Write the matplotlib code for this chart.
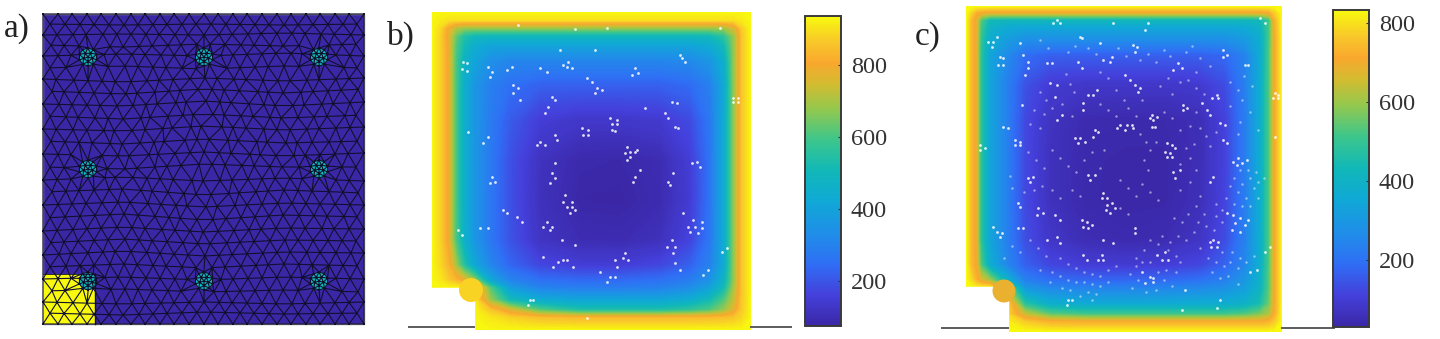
import numpy as np
import matplotlib
matplotlib.use("Agg")
import matplotlib.pyplot as plt
import matplotlib.tri as mtri
from matplotlib.colors import LinearSegmentedColormap, Normalize
from matplotlib.cm import ScalarMappable
from matplotlib.patches import Rectangle, Circle

W, H = 1440, 339
plt.rcParams['font.family'] = ['Liberation Serif', 'DejaVu Serif']

#rough parula as it looks in the picture
parula = LinearSegmentedColormap.from_list("parula_ish", [
    (0.00, "#3B27A6"), (0.10, "#4440DC"), (0.20, "#2F6FF5"), (0.30, "#1F8FE8"),
    (0.40, "#10A8D6"), (0.50, "#10B8B8"), (0.60, "#3CC68C"), (0.70, "#93C84E"),
    (0.78, "#D2BC30"), (0.85, "#F9A82E"), (0.92, "#F8C82A"), (1.00, "#F8F90E")])

#panel a mesh in pixels (row height at 5 places across)
mesh_row_y = [(14,14,14,14,14),(24,25,24,25,24),(35,34,35,33,35),(45,47,44,46,44),(56,54,56,53,56),
              (68,66,69,66,68),(79,82,78,81,78),(91,94,89,93,89),(104,106,101,106,102),(116,119,114,118,115),
              (129,131,126,130,127),(141,144,139,143,141),(154,156,152,156,153),(167,169,164,167,167),
              (180,177,181,178,181),(192,189,195,190,193),(205,202,207,203,205),(218,214,220,215,217),
              (231,227,232,228,229),(243,239,244,240,241),(255,251,256,252,253),(267,264,268,264,266),
              (279,277,280,277,279),(291,289,292,290,292),(302,304,302,304,302),(313,315,312,314,313),
              (324,324,324,324,324)]
mesh_row_x = [
 [43,58,72,87,101,116,131,145,160,174,189,204,218,233,247,262,277,291,306,320,335,349,364],
 [50,65,80,94,109,124,138,153,167,182,196,211,226,240,255,269,284,298,313,328,343,357],
 [43,57,73,86,103,117,131,146,159,175,188,204,219,232,248,261,277,292,305,321,334,351,364],
 [51,64,79,95,110,123,139,152,168,181,197,210,225,241,254,270,283,299,312,329,342,356],
 [43,58,71,104,116,132,145,161,174,187,221,233,247,262,276,291,302,336,350,364],
 [50,66,81,93,108,125,138,153,166,182,196,211,227,240,255,268,284,299,314,327,344,357],
 [43,56,74,88,102,115,131,147,159,173,190,205,217,234,246,263,278,290,307,319,336,349,364],
 [52,64,79,94,111,126,137,155,169,180,198,212,224,239,258,268,283,301,313,328,341,358],
 [43,59,72,87,100,117,133,146,157,176,186,206,220,231,249,264,275,293,304,322,333,350,364],
 [50,66,78,95,108,123,141,150,168,183,193,213,224,241,253,270,281,298,314,327,345,356],
 [43,56,73,87,104,114,132,145,163,172,191,201,222,233,246,264,277,290,307,319,336,350,364],
 [51,65,79,92,110,122,140,154,164,185,197,209,228,238,257,267,286,297,312,329,341,357],
 [43,58,71,88,102,118,129,149,158,175,190,204,219,231,250,260,276,294,305,320,335,348,364],
 [50,64,81,95,107,125,137,155,167,181,199,212,225,242,254,270,282,299,313,328,342,356],
 [43,57,71,105,115,133,147,160,173,192,203,220,232,248,262,275,290,302,336,349,364],
 [52,66,79,94,109,122,141,152,168,184,196,211,229,239,256,268,284,298,312,329,343,358],
 [43,58,72,86,102,118,130,148,161,176,187,206,217,235,247,262,278,292,306,320,335,350,364],
 [50,65,80,95,110,124,138,155,169,180,197,213,226,241,255,269,283,299,314,327,344,357],
 [43,57,73,87,101,117,132,145,162,175,190,203,218,234,249,261,276,291,305,322,334,349,364],
 [51,64,78,94,108,125,139,152,167,183,198,210,227,240,254,270,285,298,313,328,342,356],
 [43,59,71,88,103,115,131,147,160,174,188,205,219,232,247,263,277,290,307,320,336,351,364],
 [50,66,80,94,110,124,137,153,166,182,196,212,225,241,256,268,284,299,312,329,343,357],
 [43,58,71,105,118,131,146,160,175,187,221,233,248,262,277,291,302,336,350,364],
 [52,65,79,95,111,125,138,152,168,181,196,214,226,240,255,269,283,298,312,327,342,358],
 [43,57,73,87,102,116,132,145,161,174,189,204,219,232,247,262,276,292,305,320,335,349,364],
 [50,64,80,94,109,123,139,153,167,182,197,211,225,240,254,269,284,298,313,328,342,357],
 [43,58,72,87,101,116,131,145,160,174,189,204,218,233,247,262,277,291,306,320,335,349,364]]
hole_x = [88, 204, 319, 88, 319, 88, 204, 319]
hole_y = [57, 57, 57, 169, 169, 281, 281, 281]
hole_r = 9

#panel b
b_x = [432,440,448,456,464,474,490,510,540,580,620,660,690,710,724,734,742,751]
b_y = [12,20,28,36,46,60,85,120,160,200,240,265,280,288,300,310,318,330]
b_vals = [
 [930,930,930,930,930,930,930,930,930,930,930,930,930,930,930,930,930,930],
 [930,915,900,900,900,900,900,900,900,900,900,900,900,900,900,900,915,930],
 [930,890,800,710,680,680,680,680,680,680,680,680,680,680,690,750,870,930],
 [930,880,780,630,540,500,490,490,490,490,490,490,490,500,560,680,860,930],
 [930,880,790,610,510,440,400,400,400,400,400,400,400,430,500,680,860,930],
 [930,880,790,600,470,410,340,310,310,310,310,310,320,360,450,680,860,930],
 [930,880,790,600,450,360,290,250,220,220,220,220,240,290,420,680,860,930],
 [930,880,790,600,450,360,280,210,150,130,130,140,180,270,430,680,860,930],
 [930,880,790,600,450,360,275,190,115,85,82,95,150,260,430,680,860,930],
 [930,880,790,600,450,360,270,190,110,78,76,90,145,260,430,680,860,930],
 [930,880,790,600,460,360,270,195,120,95,92,110,165,270,430,680,860,930],
 [930,890,830,690,550,420,310,230,170,150,150,170,220,295,430,680,860,930],
 [930,910,870,830,780,680,420,300,250,235,235,250,280,345,470,680,860,930],
 [930,930,930,930,930,930,620,380,300,285,285,295,330,400,510,700,860,930],
 [930,930,930,930,930,930,690,510,430,410,410,410,440,510,610,730,865,930],
 [930,930,930,930,930,930,860,760,620,540,540,540,570,610,680,770,870,930],
 [930,930,930,930,930,930,910,880,850,840,840,840,840,845,850,860,885,930],
 [930,930,930,930,930,930,930,930,930,930,930,930,930,930,930,930,930,930]]
b_range = (74, 937)
b_ticks = [200, 400, 600, 800]
b_specks = [(463,62),(467,63),(462,69),(467,71),(518,25),(575,29),(607,28),(720,28),(587,318),
 (563,65),(568,62),(572,68),(567,67),(595,50),(560,50),(488,67),(492,72),(490,77),(512,67),(507,70),
 (540,68),(547,72),(513,85),(518,88),(513,93),(520,100),(587,78),(592,82),(597,88),(602,90),(595,93),
 (635,68),(638,73),(632,75),(682,58),(685,62),(680,55),(552,97),(555,100),(548,107),(545,113),
 (610,118),(617,120),(612,124),(617,124),(612,130),(615,131),(582,128),(588,130),(583,135),(588,135),
 (627,147),(630,152),(625,153),(635,152),(630,157),(627,160),(637,150),(555,135),(557,140),
 (540,142),(545,145),(537,145),(672,102),(677,103),(665,113),(668,118),(645,108),(678,128),(675,127),
 (697,162),(700,167),(692,163),(640,170),(635,177),(633,182),(673,173),(668,182),(670,185),
 (555,163),(552,173),(555,178),(550,183),(492,177),(495,182),(490,183),(565,195),(563,202),(572,202),
 (567,207),(572,207),(575,210),(570,213),(503,210),(507,213),(517,217),(522,222),(547,222),(552,227),
 (543,227),(550,230),(480,228),(488,228),(458,230),(462,235),(683,213),(693,220),(702,222),(688,227),
 (695,227),(702,228),(690,232),(698,233),(672,240),(667,247),(675,247),(673,253),(675,263),(680,270),
 (562,240),(575,245),(563,260),(558,262),(567,260),(553,267),(573,267),(543,257),(625,253),(623,258),
 (615,260),(628,260),(617,267),(600,272),(610,277),(607,282),(615,277),(530,300),(533,300),(528,305),
 (727,248),(722,252),(708,270),(703,275),(733,98),(738,98),(738,102),(733,102),(468,132),(483,143),(488,137)]

#panel c
c_x = [966,971,976,981,990,1007,1025,1050,1085,1125,1165,1200,1225,1245,1260,1269,1275,1282]
c_y = [6,13,20,27,38,55,85,120,160,200,240,265,280,288,304,314,322,332]
c_vals = [
 [830,830,830,830,830,830,830,830,830,830,830,830,830,830,830,830,830,830],
 [830,780,720,690,680,680,680,680,680,680,680,680,680,680,680,700,770,830],
 [830,740,690,530,430,420,420,420,420,420,420,420,420,420,430,510,730,830],
 [830,740,690,510,400,360,350,350,350,350,350,350,350,360,400,520,720,830],
 [830,740,690,490,370,320,280,280,280,280,280,280,280,310,370,520,710,830],
 [830,740,690,480,340,260,190,165,165,165,165,165,180,240,360,530,710,830],
 [830,740,690,480,340,230,140,95,80,80,80,90,130,230,370,530,710,830],
 [830,740,690,480,340,230,125,70,45,42,42,55,110,225,370,530,710,830],
 [830,740,690,480,340,230,125,65,40,36,36,55,110,225,370,530,710,830],
 [830,740,690,480,340,230,125,65,40,34,36,58,115,225,370,530,710,830],
 [830,740,690,480,340,230,135,80,52,45,48,75,130,235,370,530,710,830],
 [830,745,700,530,370,250,165,120,100,95,100,120,170,250,380,530,710,830],
 [830,790,730,670,600,390,230,190,175,175,180,195,230,295,390,540,710,830],
 [830,830,830,830,830,600,300,250,240,240,245,255,275,320,400,540,710,830],
 [830,830,830,830,830,800,480,380,360,360,360,370,370,390,450,560,710,830],
 [830,830,830,830,830,790,640,540,510,510,510,510,510,530,570,620,720,830],
 [830,830,830,830,830,820,770,730,720,720,720,720,720,720,720,730,770,830],
 [830,830,830,830,830,830,830,830,830,830,830,830,830,830,830,830,830,830]]
c_range = (30, 833)
c_ticks = [200, 400, 600, 800]
c_specks = [(1000,57),(1003,58),(998,65),(1003,65),(993,42),(988,42),(997,37),(992,47),(1020,43),
 (1057,20),(1053,23),(1060,23),(1113,23),(1080,37),(1082,38),(1023,55),(1028,62),(1028,68),(1025,75),
 (1047,63),(1052,63),(1078,62),(1082,68),(1103,60),(1110,62),(1112,57),(1100,43),(1050,83),(1057,85),
 (1055,97),(1093,95),(1088,95),(1097,90),(1083,103),(1083,110),(1022,105),(1057,120),(1062,115),
 (1003,127),(1008,128),(1015,140),(1020,142),(1015,145),(1020,145),(1075,138),(1080,138),(1078,143),
 (1085,142),(1095,130),(1098,132),(1093,137),(1117,128),(1120,125),(980,145),(985,148),(980,150),
 (1148,23),(1145,30),(1133,45),(1137,47),(1135,52),(1178,63),(1182,68),(1173,70),(1223,50),(1227,55),
 (1223,57),(1125,75),(1130,80),(1135,85),(1140,88),(1138,92),(1245,65),(1248,65),(1265,23),(1260,18),
 (1275,93),(1278,95),(1273,98),(1278,98),(1217,95),(1212,98),(1218,98),(1183,105),(1187,108),(1183,110),
 (1202,103),(1207,110),(1210,115),(1152,115),(1157,117),(1150,118),(1153,120),(1152,127),(1155,127),
 (1127,125),(1132,125),(1125,130),(1133,128),(1220,123),(1225,125),(1223,140),(1227,143),(1167,143),
 (1172,145),(1165,152),(1170,153),(1175,148),(1167,157),(1172,157),(1238,158),(1242,163),(1233,162),
 (1247,160),(1237,165),(1275,137),(1028,178),(1033,177),(1030,182),(1088,175),(1095,175),(1090,180),
 (1103,193),(1102,198),(1107,198),(1107,205),(1112,203),(1115,208),(1110,213),(1106,210),(1018,203),
 (1020,207),(1038,208),(1043,213),(1037,215),(1055,215),(1060,220),(1082,220),(1087,222),(1092,225),
 (1083,227),(1088,228),(993,227),(997,232),(1002,233),(1000,237),(1018,228),(1023,228),(1047,240),
 (1057,237),(1060,243),(1103,240),(1113,243),(1083,255),(1087,260),(1102,255),(1103,260),(1098,260),
 (1068,300),(1072,300),(1067,305),(1173,172),(1180,170),(1175,178),(1213,177),(1210,182),(1227,213),
 (1233,215),(1240,218),(1248,220),(1235,223),(1245,225),(1232,230),(1240,232),(1213,240),(1218,242),
 (1210,242),(1217,247),(1211,247),(1135,228),(1135,233),(1157,255),(1165,252),(1162,260),(1168,260),
 (1142,272),(1150,277),(1153,278),(1145,283),(1153,282),(1250,272),(1257,270),(1265,252),(1270,247),
 (1185,290),(1220,300),(1217,308),(1182,310)]
c_faint = [(1040,40),(1048,48),(1068,52),(1075,46),(1088,48),(1096,54),(1118,48),(1126,56),(1140,60),(1148,54),
 (1156,62),(1164,50),(1170,56),(1186,52),(1192,46),(1200,58),(1210,66),(1196,72),(1188,80),(1180,82),
 (1040,92),(1046,100),(1066,74),(1070,84),(1074,92),(1100,72),(1108,78),(1116,90),(1124,100),(1142,100),
 (1160,86),(1168,78),(1172,94),(1196,88),(1204,94),(1230,82),(1238,90),(1244,76),(1252,86),(1242,100),
 (1230,106),(1250,112),(1240,122),(1258,130),(1238,134),(1200,128),(1206,136),(1190,126),(1180,130),(1194,144),
 (1140,134),(1146,142),(1150,150),(1156,142),(1144,160),(1148,170),(1186,148),(1190,158),(1180,164),(1196,170),
 (1040,128),(1030,124),(1028,152),(1036,160),(1044,168),(1052,150),(1060,158),(1068,166),(1076,172),(1084,160),
 (1092,152),(1100,168),(1104,150),(1010,176),(1012,188),(1024,192),(1034,190),(1042,186),(1052,190),(1060,198),
 (1072,190),(1080,196),(1120,180),(1128,188),(1136,196),(1142,184),(1150,192),(1158,200),(1120,208),(1128,214),
 (1180,190),(1190,182),(1200,196),(1230,186),(1238,192),(1246,198),(1254,188),(1226,198),(1234,204),(1242,206),
 (1250,206),(1258,198),(1222,222),(1214,230),(1194,232),(1186,240),(1178,236),(1170,242),(1162,236),(1200,248),
 (1208,258),(1216,262),(1224,266),(1212,272),(1220,278),(1228,276),(1238,284),(1180,262),(1176,272),(1166,270),
 (1158,272),(1142,262),(1136,258),(1150,262),(1060,258),(1068,264),(1076,268),(1084,272),(1092,274),(1100,276),
 (1108,270),(1116,266),(1084,282),(1092,284),(1100,286),(1108,282),(1096,294),(1088,292),(1030,240),(1038,248),
 (1046,256),(1020,252),(1012,246),(1004,258),(1040,270),(1050,282),(1062,288),
 (1234,178),(1242,184),(1250,178),(1258,182),(1240,170),(1248,170),(1256,172),(1264,178),(1216,204),(1222,210),
 (1204,214),(1196,206),(1188,214),(1182,222),(1174,218),(1206,226),(1198,222),(1216,216),(1222,252),(1232,252),
 (1240,258),(1230,262),(1238,268),(1246,262),(1254,256),(1150,240),(1158,244),(1168,250),(1176,256),(1144,250),
 (1136,266),(1130,274),(1138,280),(1132,288),(1146,292),(1156,290),(1164,280),(1172,286),(1052,272),(1060,276),
 (1068,280),(1076,282),(1070,290),(1080,296),(1092,300),(1034,110),(1044,114),(1052,108),(1062,104),(1072,116),
 (1100,104),(1108,110),(1116,116),(1128,108),(1136,116),(1164,112),(1172,118),(1196,112),(1216,132),(1210,146)]

labels = ["a)", "b)", "c)"]
label_pos = [(4, 37), (387, 45), (915, 45)]


def px_axes(fig, x0, y0, x1, y1):
    return fig.add_axes([x0/W, 1-y1/H, (x1-x0)/W, (y1-y0)/H])


def heat_panel(ax, xs, ys, vals, rng, specks, notch, knob, knob_val, line, faint=None):
    norm = Normalize(*rng)
    levels = np.linspace(rng[0], rng[1], 200)
    ax.contourf(xs, ys, np.array(vals), levels=levels, cmap=parula, norm=norm, antialiased=False, zorder=1)
    ax.add_patch(Rectangle((xs[0]-2, notch[1]), notch[0]-xs[0]+2, ys[-1]-notch[1]+3, color='white', zorder=2))
    ax.add_patch(Circle(knob[:2], knob[2], color=parula(norm(knob_val)), lw=0, zorder=3))
    ax.plot([line[0], notch[0]], [line[2], line[2]], color='#5c5c5c', lw=1.4, zorder=4)
    ax.plot([xs[-1], line[1]], [line[2], line[2]], color='#5c5c5c', lw=1.4, zorder=4)
    if faint:
        ax.scatter(*zip(*faint), s=3, c='white', alpha=0.5, linewidths=0, zorder=5)
    ax.scatter(*zip(*specks), s=4, c='white', alpha=0.85, linewidths=0, zorder=5)


def add_cbar(fig, box, rng, ticks):
    cax = px_axes(fig, *box)
    sm = ScalarMappable(norm=Normalize(*rng), cmap=parula)
    cb = fig.colorbar(sm, cax=cax, ticks=ticks)
    cb.outline.set_edgecolor('#3a3a3a')
    cb.outline.set_linewidth(1.4)
    cax.tick_params(direction='in', length=2.5, width=0.8, color='#333333',
                    labelsize=17.5, labelcolor='#333333', pad=7)


fig = plt.figure(figsize=(W/100, H/100), dpi=100)
ax = fig.add_axes([0, 0, 1, 1])
ax.set_xlim(0, W)
ax.set_ylim(H, 0)
ax.axis('off')

#panel a
nx, ny = [], []
for row, anchors in zip(mesh_row_x, mesh_row_y):
    for x in row:
        y = np.interp(x, [43, 123, 204, 284, 364], anchors)
        if min((x-hx)**2 + (y-hy)**2 for hx, hy in zip(hole_x, hole_y)) > 14**2:
            nx.append(x)
            ny.append(y)
for hx, hy in zip(hole_x, hole_y):
    nx.append(hx)
    ny.append(hy)
    for r, n in ((4.5, 5), (hole_r, 10)):
        ang = np.linspace(0, 2*np.pi, n, endpoint=False) + 0.3
        nx.extend(hx + r*np.cos(ang))
        ny.extend(hy + r*np.sin(ang))
tri = mtri.Triangulation(nx, ny)
ax.add_patch(Rectangle((43, 14), 321, 310, facecolor=parula(0.0), edgecolor='#8a8a8a', lw=1, zorder=1))
ax.add_patch(Rectangle((43, 274), 52, 50, facecolor=parula(1.0), edgecolor='none', zorder=1))
for hx, hy in zip(hole_x, hole_y):
    ax.add_patch(Circle((hx, hy), hole_r, facecolor=parula(0.5), edgecolor='none', zorder=1))
ax.triplot(tri, color='#10102e', lw=0.8, zorder=2)
ax.plot([95, 95], [274, 324], color='#10102e', lw=1, zorder=2)
ax.plot([43, 95], [274, 274], color='#10102e', lw=0.6, zorder=2)

heat_panel(ax, b_x, b_y, b_vals, b_range, b_specks, (474, 288), (471, 290, 12), 880, (409, 791, 327))
heat_panel(ax, c_x, c_y, c_vals, c_range, c_specks, (1008, 287), (1004, 291, 11.5), 690, (942, 1334, 328), c_faint)

add_cbar(fig, (805, 16, 841, 326), b_range, b_ticks)
add_cbar(fig, (1333, 10, 1369, 327), c_range, c_ticks)

for s, (x, y) in zip(labels, label_pos):
    ax.text(x, y, s, fontsize=24, color='#222222', va='baseline', ha='left')

fig.savefig("out.png", dpi=100)
